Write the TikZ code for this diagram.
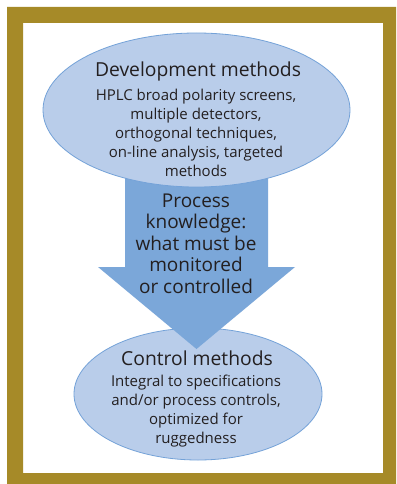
\documentclass[tikz,border=0pt]{standalone}
\usepackage{fontspec}
\setmainfont{Open Sans}
\usetikzlibrary{shapes.geometric}
\definecolor{gold}{HTML}{A68A28}
\definecolor{ellfill}{HTML}{B9CDEA}
\definecolor{elldraw}{HTML}{74A2D8}
\definecolor{arrfill}{HTML}{7BA7D9}
\definecolor{txt}{HTML}{231F20}
\tikzset{
  ell/.style={ellipse, draw=elldraw, fill=ellfill, line width=0.8pt, inner sep=0pt},
  title/.style={text=txt, font=\fontsize{19.3}{22}\selectfont, anchor=base, inner sep=0pt},
  body/.style={text=txt, font=\fontsize{15}{19}\selectfont, align=center, anchor=base, inner sep=0pt},
  arrtext/.style={text=txt, font=\fontsize{19}{21.5}\selectfont, align=center, anchor=base, inner sep=0pt},
}
\begin{document}
\begin{tikzpicture}[x=1pt,y=-1pt]
\useasboundingbox (0,0) rectangle (396,484);
\fill[white] (0,0) rectangle (396,484);
% gold frame
\fill[gold,even odd rule] (7,7) rectangle (396,484) (23,23) rectangle (383,473);
% bottom ellipse
\node[ell, minimum width=248pt, minimum height=132pt] (ctrl) at (198,394) {};
% arrow
\fill[arrfill] (125,150) -- (268,150) -- (268,267) -- (295,267) -- (196.5,349) -- (98,267) -- (125,267) -- cycle;
% top ellipse
\node[ell, minimum width=307pt, minimum height=154pt] (dev) at (196.5,110) {};
% texts (base anchor = last line's baseline)
\node[title] (devtitle) at (198,77) {Development methods};
\node[body] (devbody) at (196,176) {HPLC broad polarity screens,\\multiple detectors,\\orthogonal techniques,\\on-line analysis, targeted\\methods};
\node[arrtext] (proc) at (196,293) {Process\\knowledge:\\what must be\\monitored\\or controlled};
\node[title] (ctrltitle) at (197,365) {Control methods};
\node[body] (ctrlbody) at (196,443) {Integral to specifications\\and/or process controls,\\optimized for\\ruggedness};
\end{tikzpicture}
\end{document}
